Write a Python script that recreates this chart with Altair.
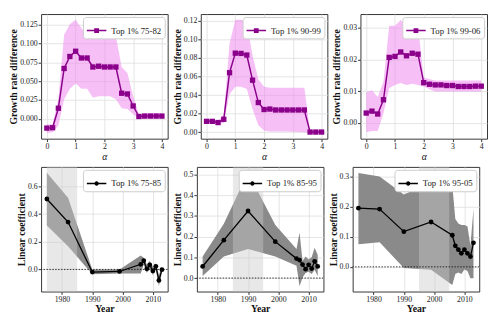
import altair as alt
import pandas as pd

# ---------------- data ----------------
alpha = [0.0, 0.2, 0.4, 0.6, 0.8, 1.0, 1.2, 1.4, 1.6, 1.8, 2.0,
         2.2, 2.4, 2.6, 2.8, 3.0, 3.2, 3.4, 3.6, 3.8, 4.0]

p1_name = "Top 1% 75-82"
p1_y = [-0.0125, -0.012, 0.014, 0.067, 0.083, 0.090, 0.081, 0.081, 0.069, 0.070, 0.069,
        0.069, 0.069, 0.034, 0.033, 0.017, 0.003, 0.0035, 0.0035, 0.0035, 0.0035]
p1_lo = [-0.019, -0.018, -0.009, 0.026, 0.040, 0.047, 0.040, 0.040, 0.028, 0.030, 0.030,
         0.030, 0.026, 0.014, 0.013, 0.006, 0.0004, 0.0005, 0.0005, 0.0005, 0.0005]
p1_hi = [-0.0075, -0.0075, 0.026, 0.112, 0.126, 0.132, 0.121, 0.110, 0.110, 0.110, 0.110,
         0.110, 0.110, 0.069, 0.061, 0.030, 0.006, 0.0075, 0.0075, 0.0075, 0.0075]

p2_name = "Top 1% 90-99"
p2_y = [0.0118, 0.0118, 0.0105, 0.014, 0.064, 0.085, 0.0847, 0.083, 0.056, 0.032, 0.0245,
        0.025, 0.024, 0.024, 0.024, 0.024, 0.024, 0.024, 0.0003, 0.0003, 0.0003]
p2_lo = [0.0105, 0.0105, 0.009, 0.010, 0.041, 0.049, 0.049, 0.0465, 0.025, 0.0076, 0.002,
         0.001, 0.001, 0.001, 0.0008, 0.0005, 0.0003, 0.0002, -0.0002, -0.0002, -0.0002]
p2_hi = [0.0135, 0.0135, 0.0125, 0.019, 0.095, 0.121, 0.121, 0.118, 0.0825, 0.057, 0.049,
         0.048, 0.048, 0.048, 0.048, 0.048, 0.048, 0.048, 0.0008, 0.0008, 0.0008]

p3_name = "Top 1% 99-06"
p3_y = [0.0031, 0.0037, 0.0028, 0.0073, 0.0207, 0.021, 0.0224, 0.0212, 0.022, 0.0217, 0.0127,
        0.0122, 0.012, 0.012, 0.0118, 0.0118, 0.0115, 0.0115, 0.0115, 0.0116, 0.0116]
p3_lo = [-0.003, -0.0026, -0.0026, 0.003, 0.011, 0.012, 0.0126, 0.012, 0.0124, 0.012, 0.0115,
         0.0106, 0.0099, 0.0099, 0.0099, 0.0099, 0.0099, 0.0099, 0.0099, 0.0099, 0.0099]
p3_hi = [0.0096, 0.0103, 0.0082, 0.0129, 0.0307, 0.0307, 0.0325, 0.0307, 0.0307, 0.0307, 0.0143,
         0.0138, 0.0134, 0.0134, 0.0134, 0.0134, 0.0134, 0.0134, 0.0134, 0.0134, 0.0134]

years = [1975, 1982, 1990, 1999, 2006, 2007, 2008, 2009, 2010, 2011, 2012, 2013]

p4_name = "Top 1% 75-85"
p4_y = [0.509, 0.342, -0.0195, -0.015, 0.037, 0.063, 0.004, 0.0325, -0.011, 0.022, -0.08, -0.002]
p4_lo = [0.318, 0.167, -0.035, -0.03, -0.03, 0.035, -0.025, 0.005, -0.04, -0.005, -0.12, -0.025]
p4_hi = [0.698, 0.518, 0.0, 0.0, 0.10, 0.085, 0.035, 0.06, 0.02, 0.045, -0.04, 0.02]
p4_span = [1975, 1985]

p5_name = "Top 1% 85-95"
p5_y = [0.056, 0.183, 0.324, 0.176, 0.094, 0.087, 0.065, 0.043, 0.064, 0.046, 0.081, 0.056]
p5_lo = [0.01, 0.104, 0.140, 0.104, 0.06, -0.04, 0.003, 0.025, 0.03, 0.02, 0.04, 0.01]
p5_hi = [0.104, 0.263, 0.51, 0.256, 0.14, 0.22, 0.082, 0.104, 0.09, 0.1, 0.147, 0.111]
p5_span = [1985, 1995]

p6_name = "Top 1% 95-05"
p6_y = [0.195, 0.192, 0.117, 0.149, 0.105, 0.070, 0.057, 0.045, 0.057, 0.045, 0.034, 0.080]
p6_lo = [0.075, 0.082, -0.004, -0.01, -0.06, -0.024, -0.019, -0.024, -0.009, -0.014, -0.038, -0.038]
p6_hi = [0.312, 0.300, 0.240, 0.28, 0.272, 0.159, 0.144, 0.139, 0.139, 0.135, 0.07, 0.193]
p6_span = [1995, 2005]

# ---------------- style ----------------
W = 130
H_TOP = 128
H_BOT = 128
FONT = "Liberation Serif, DejaVu Serif, serif"
PURPLE = "#8b008b"
VIOLET = "#ee82ee"
SQUARE_PATH = "M-1,0L1,0M-0.17,-0.17L0.17,-0.17L0.17,0.17L-0.17,0.17Z"
CIRCLE_PATH = "M-1,0L1,0M0.15,0A0.15,0.15,0,1,1,-0.15,0A0.15,0.15,0,1,1,0.15,0Z"


def legend(color, path):
    return alt.Legend(
        title=None, orient="top-right", symbolType=path, symbolSize=400,
        labelFont=FONT, labelFontSize=9, labelColor="#222",
        fillColor="white", strokeColor="#cccccc", cornerRadius=3,
        padding=3, offset=3, labelOffset=4,
        symbolFillColor=color, symbolStrokeColor=color,
        symbolStrokeWidth=1.5, symbolOpacity=1,
    )


def top_panel(y, lo, hi, name, ydom, yticks, fmt):
    df = pd.DataFrame({"alpha": alpha, "y": y, "lo": lo, "hi": hi, "s": [name] * len(alpha)})
    xs = alt.Scale(domain=[-0.2, 4.2], nice=False, zero=False)
    ys = alt.Scale(domain=ydom, nice=False, zero=False)
    xax = alt.Axis(values=[0, 1, 2, 3, 4], format="d", title="α",
                   titleFontStyle="italic", titleFontWeight="normal")
    yax = alt.Axis(values=yticks, format=fmt, title="Growth rate difference")
    X = alt.X("alpha:Q", scale=xs, axis=xax)
    base = alt.Chart(df)
    band = base.mark_area(color=VIOLET, opacity=0.5).encode(
        x=X, y=alt.Y("lo:Q", scale=ys, axis=yax), y2="hi:Q",
    )
    line = base.mark_line(strokeWidth=1.5).encode(
        x=X, y=alt.Y("y:Q", scale=ys, axis=yax),
        color=alt.Color("s:N", scale=alt.Scale(domain=[name], range=[PURPLE]),
                        legend=legend(PURPLE, SQUARE_PATH)),
    )
    pts = base.mark_point(shape="square", filled=True, size=30, opacity=1, color=PURPLE).encode(
        x=X, y=alt.Y("y:Q", scale=ys, axis=yax)
    )
    return alt.layer(band, line, pts).properties(width=W, height=H_TOP)


def bot_panel(y, lo, hi, name, span, ydom, yticks):
    df = pd.DataFrame({"year": years, "y": y, "lo": lo, "hi": hi, "s": [name] * len(years)})
    sp = pd.DataFrame({"a": [span[0]], "b": [span[1]]})
    zero = pd.DataFrame({"z": [0.0]})
    xs = alt.Scale(domain=[1973.1, 2014.9], nice=False, zero=False)
    ys = alt.Scale(domain=ydom, nice=False, zero=False)
    xax = alt.Axis(values=[1980, 1990, 2000, 2010], format="d", title="Year")
    yax = alt.Axis(values=yticks, format=".1f", title="Linear coefficient")
    X = alt.X("year:Q", scale=xs, axis=xax)
    band = alt.Chart(df).mark_area(color="#8a8a8a", opacity=1).encode(
        x=X, y=alt.Y("lo:Q", scale=ys, axis=yax), y2="hi:Q",
    )
    rect = alt.Chart(sp).mark_rect(color="#c9c9c9", opacity=0.43).encode(
        x=alt.X("a:Q", scale=xs, axis=xax), x2="b:Q",
        y=alt.value(0), y2=alt.value(H_BOT),
    )
    zl = alt.Chart(zero).mark_rule(color="black", strokeDash=[1.5, 1.5], strokeWidth=0.8).encode(
        y=alt.Y("z:Q", scale=ys, axis=yax)
    )
    line = alt.Chart(df).mark_line(strokeWidth=1.3).encode(
        x=X, y=alt.Y("y:Q", scale=ys, axis=yax),
        color=alt.Color("s:N", scale=alt.Scale(domain=[name], range=["black"]),
                        legend=legend("black", CIRCLE_PATH)),
    )
    pts = alt.Chart(df).mark_point(shape="circle", filled=True, size=24, opacity=1, color="black").encode(
        x=X, y=alt.Y("y:Q", scale=ys, axis=yax)
    )
    return alt.layer(band, rect, zl, line, pts).properties(width=W, height=H_BOT)


c1 = top_panel(p1_y, p1_lo, p1_hi, p1_name, [-0.0266, 0.1396],
               [0, 0.025, 0.05, 0.075, 0.1, 0.125], ".3f")
c2 = top_panel(p2_y, p2_lo, p2_hi, p2_name, [-0.0068, 0.127],
               [0, 0.02, 0.04, 0.06, 0.08, 0.1, 0.12], ".2f")
c3 = top_panel(p3_y, p3_lo, p3_hi, p3_name, [-0.0050, 0.0344],
               [0, 0.01, 0.02, 0.03], ".2f")
c4 = bot_panel(p4_y, p4_lo, p4_hi, p4_name, p4_span, [-0.16, 0.741], [0, 0.2, 0.4, 0.6])
c5 = bot_panel(p5_y, p5_lo, p5_hi, p5_name, p5_span, [-0.065, 0.537], [0, 0.1, 0.2, 0.3, 0.4, 0.5])
c6 = bot_panel(p6_y, p6_lo, p6_hi, p6_name, p6_span, [-0.082, 0.332], [0, 0.1, 0.2, 0.3])

top = alt.hconcat(c1, c2, c3, spacing=3).resolve_scale(color="independent", x="independent", y="independent")
bot = alt.hconcat(c4, c5, c6, spacing=3).resolve_scale(color="independent", x="independent", y="independent")

chart = alt.vconcat(top, bot, spacing=4).resolve_scale(
    color="independent", x="independent", y="independent"
).properties(
    padding={"left": 0, "top": 1, "right": 0, "bottom": 0}
).configure(
    font=FONT,
).configure_view(
    stroke="#333333", strokeWidth=1
).configure_axis(
    labelFont=FONT, labelFontSize=8, labelColor="#222",
    titleFont=FONT, titleFontSize=10, titleFontWeight="bold", titleColor="#111",
    titlePadding=1, labelPadding=1, labelOverlap=False, labelFlush=False,
    tickSize=3, tickColor="#333", domain=False,
    grid=True, gridColor="#dddddd", gridWidth=0.8,
).configure_legend(
    labelFont=FONT
)

chart.save("out.html", embed_options={"renderer": "svg", "actions": False})
